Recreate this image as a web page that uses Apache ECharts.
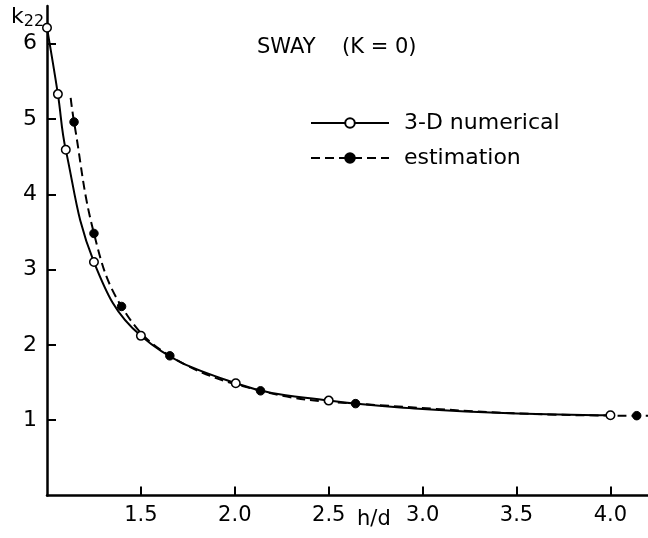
<!DOCTYPE html>
<html>
<head>
<meta charset="utf-8">
<script src="https://cdn.jsdelivr.net/npm/echarts@6/dist/echarts.min.js"></script>
<style>
html,body{margin:0;padding:0;background:#fff;}
#c{width:648px;height:538px;}
</style>
</head>
<body>
<div id="c"></div>
<script>
// 3-D numerical (open circles) — h/d and k22
var numX = [1.0, 1.058, 1.10, 1.25, 1.50, 2.005, 2.50, 3.0, 3.5, 4.0];
var numY = [6.21, 5.33, 4.59, 3.10, 2.12, 1.49, 1.26, 1.15, 1.09, 1.066];
var numMarked = [true, true, true, true, true, true, true, false, false, true];
// estimation (filled dots)
var estX = [1.126, 1.144, 1.25, 1.397, 1.654, 2.137, 2.643, 4.14, 4.2];
var estY = [5.28, 4.96, 3.48, 2.51, 1.855, 1.39, 1.22, 1.06, 1.06];
var estMarked = [false, true, true, true, true, true, true, true, false];
// tick labels
var xTicks = [1.5, 2.0, 2.5, 3.0, 3.5, 4.0];
var yTicks = [1, 2, 3, 4, 5, 6];

var FONT = 'DejaVu Sans';
function pts(xs, ys, marked) {
  return xs.map(function (x, i) {
    var p = {value: [x, ys[i]]};
    if (!marked[i]) p.symbol = 'none';
    return p;
  });
}

var chart = echarts.init(document.getElementById('c'), null, {renderer: 'canvas'});
chart.setOption({
  animation: false,
  backgroundColor: '#fff',
  grid: {left: 47, right: 0, top: 6, bottom: 42.5},
  xAxis: {
    type: 'value', min: 1.0, max: 4.2,
    axisLine: {show: true, onZero: false, lineStyle: {color: '#000', width: 2.5}},
    axisTick: {show: true, inside: true, length: 9, customValues: xTicks, lineStyle: {color: '#000', width: 2}},
    axisLabel: {show: true, customValues: xTicks, margin: 10, color: '#000', fontSize: 21, fontFamily: FONT,
      formatter: function (v) { return v.toFixed(1); }},
    splitLine: {show: false}
  },
  yAxis: {
    type: 'value', min: 0, max: 6.5,
    axisLine: {show: true, onZero: false, lineStyle: {color: '#000', width: 2.5}},
    axisTick: {show: true, inside: true, length: 9, customValues: yTicks, lineStyle: {color: '#000', width: 2}},
    axisLabel: {show: true, customValues: yTicks, margin: 10, color: '#000', fontSize: 22, fontFamily: FONT},
    splitLine: {show: false}
  },
  legend: {
    orient: 'vertical', left: 310, top: 112, padding: 0, itemWidth: 78, itemHeight: 12, itemGap: 13,
    textStyle: {color: '#000', fontSize: 22, fontFamily: FONT, padding: [0, 0, 0, 10]},
    data: ['3-D numerical', 'estimation']
  },
  graphic: [
    {type: 'text', left: 11, top: 6, style: {
      rich: {k: {fontSize: 22, fontFamily: FONT, fill: '#000'},
             s: {fontSize: 16, fontFamily: FONT, fill: '#000', padding: [10, 0, 0, 0]}},
      text: '{k|k}{s|22}'}},
    {type: 'text', left: 257, top: 37, style: {text: 'SWAY', fontSize: 21, fontFamily: FONT, fill: '#000'}},
    {type: 'text', left: 342, top: 37, style: {text: '(K = 0)', fontSize: 21, fontFamily: FONT, fill: '#000'}},
    {type: 'text', left: 357, top: 509, style: {text: 'h/d', fontSize: 21, fontFamily: FONT, fill: '#000'}}
  ],
  series: [
    {
      name: '3-D numerical', type: 'line', smooth: 0.4,
      data: pts(numX, numY, numMarked),
      symbol: 'circle', symbolSize: 8.5,
      itemStyle: {color: '#fff', borderColor: '#000', borderWidth: 1.5},
      lineStyle: {color: '#000', width: 2, type: 'solid'},
      z: 3
    },
    {
      name: 'estimation', type: 'line', smooth: 0.4,
      data: pts(estX, estY, estMarked),
      symbol: 'circle', symbolSize: 8.5,
      itemStyle: {color: '#000', borderColor: '#000', borderWidth: 1},
      lineStyle: {color: '#000', width: 2, type: [9, 5]},
      z: 2
    }
  ]
});
</script>
</body>
</html>
